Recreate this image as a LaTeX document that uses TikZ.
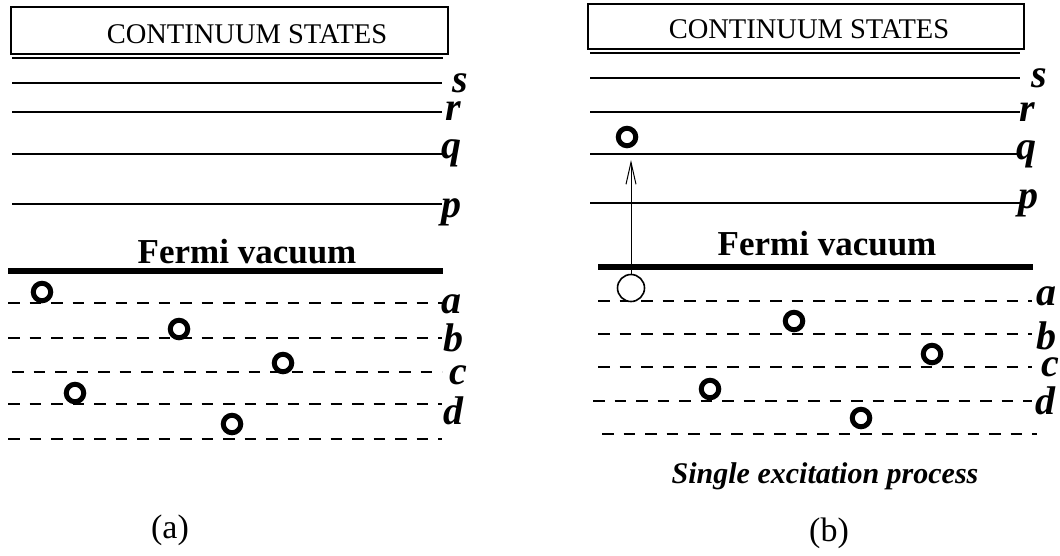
\documentclass[tikz,border=0pt]{standalone}
\usepackage{fontspec}
\setmainfont{Liberation Serif}
\usetikzlibrary{arrows.meta}
\tikzset{
  level/.style={line width=2.8pt},
  fermi/.style={line width=5.5pt},
  hole/.style={line width=2.7pt, dash pattern=on 11.5pt off 10pt},
  boxframe/.style={draw, line width=2.2pt, minimum width=437pt, minimum height=47pt, inner sep=0pt},
  shadowline/.style={line width=2.2pt},
  boxtext/.style={font=\fontsize{28.5}{28.5}\selectfont, anchor=base, inner sep=0pt},
  lbl/.style={font=\fontsize{40}{40}\selectfont\bfseries\itshape, anchor=base west, inner sep=0pt},
  fermitext/.style={font=\fontsize{35}{35}\selectfont\bfseries, anchor=base, inner sep=0pt},
  ring/.style={circle, draw, fill=white, line width=5pt, minimum size=17.5pt, inner sep=0pt},
  bigring/.style={circle, draw, fill=white, line width=1.6pt, minimum size=27pt, inner sep=0pt},
  caption/.style={font=\fontsize{34}{34}\selectfont, anchor=base, inner sep=0pt},
  proc/.style={font=\fontsize{30}{30}\selectfont\bfseries\itshape, anchor=base, inner sep=0pt},
  excite/.style={line width=1pt, -{Straight Barb[length=22pt, width=10pt, line width=1pt]}}
}
\begin{document}
\begin{tikzpicture}[x=1pt, y=-1pt]
\useasboundingbox (0,0) rectangle (1060,555);

% ---------------- panel (a) ----------------
\node[boxframe] (boxa) at (229.5,30.5) {};
\node[boxtext] (conta) at (247,43) {CONTINUUM STATES};
\coordinate (sha1) at (12,58); \coordinate (sha2) at (443,58);
\draw[shadowline] (sha1) -- (sha2);

\coordinate (sa1) at (12,83);  \coordinate (sa2) at (442,83);
\coordinate (ra1) at (12,112); \coordinate (ra2) at (442,112);
\coordinate (qa1) at (12,154); \coordinate (qa2) at (442,154);
\coordinate (pa1) at (12,204); \coordinate (pa2) at (442,204);
\draw[level] (sa1) -- (sa2);
\draw[level] (ra1) -- (ra2);
\draw[level] (qa1) -- (qa2);
\draw[level] (pa1) -- (pa2);
\node[lbl] (las) at (452,92) {s};
\node[lbl] (lar) at (445,120) {r};
\node[lbl] (laq) at (441,158) {q};
\node[lbl] (lap) at (441,217) {p};

\node[fermitext] (fva) at (247,263) {Fermi vacuum};
\coordinate (fa1) at (8,271); \coordinate (fa2) at (443,271);
\draw[fermi] (fa1) -- (fa2);

\coordinate (aa1) at (8,303);  \coordinate (aa2) at (442,303);
\coordinate (ba1) at (8,338);  \coordinate (ba2) at (442,338);
\coordinate (ca1) at (12,372); \coordinate (ca2) at (442,372);
\coordinate (da1) at (8,404);  \coordinate (da2) at (442,404);
\coordinate (ea1) at (8,439);  \coordinate (ea2) at (442,439);
\draw[hole] (aa1) -- (aa2);
\draw[hole] (ba1) -- (ba2);
\draw[hole] (ca1) -- (ca2);
\draw[hole] (da1) -- (da2);
\draw[hole] (ea1) -- (ea2);
\node[lbl] (laa) at (441,313) {a};
\node[lbl] (lab) at (443,351) {b};
\node[lbl] (lac) at (449,384) {c};
\node[lbl] (lad) at (443,424) {d};

\node[ring] (h1a) at (42,292) {};
\node[ring] (h2a) at (179,329) {};
\node[ring] (h3a) at (283,363) {};
\node[ring] (h4a) at (75,393) {};
\node[ring] (h5a) at (232,424) {};

\node[caption] (capa) at (170,538) {(a)};

% ---------------- panel (b) ----------------
\node[boxframe, minimum width=436pt, minimum height=45pt] (boxb) at (806,26.5) {};
\node[boxtext] (contb) at (809,38) {CONTINUUM STATES};
\coordinate (shb1) at (590,53); \coordinate (shb2) at (1020,53);
\draw[shadowline] (shb1) -- (shb2);

\coordinate (sb1) at (590,78);  \coordinate (sb2) at (1020,78);
\coordinate (rb1) at (590,112); \coordinate (rb2) at (1020,112);
\coordinate (qb1) at (590,154); \coordinate (qb2) at (1020,154);
\coordinate (pb1) at (590,203); \coordinate (pb2) at (1020,203);
\draw[level] (sb1) -- (sb2);
\draw[level] (rb1) -- (rb2);
\draw[level] (qb1) -- (qb2);
\draw[level] (pb1) -- (pb2);
\node[lbl] (lbs) at (1031,87) {s};
\node[lbl] (lbr) at (1019,121) {r};
\node[lbl] (lbq) at (1016,159) {q};
\node[lbl] (lbp) at (1018,208) {p};

\node[fermitext] (fvb) at (827,255) {Fermi vacuum};
\coordinate (fb1) at (598,267); \coordinate (fb2) at (1033,267);
\draw[fermi] (fb1) -- (fb2);

\coordinate (ab1) at (598,301); \coordinate (ab2) at (1032,301);
\coordinate (bb1) at (598,334); \coordinate (bb2) at (1032,334);
\coordinate (cb1) at (598,367); \coordinate (cb2) at (1032,367);
\coordinate (db1) at (593,401); \coordinate (db2) at (1032,401);
\coordinate (eb1) at (602,434); \coordinate (eb2) at (1037,434);
\draw[hole] (ab1) -- (ab2);
\draw[hole] (bb1) -- (bb2);
\draw[hole] (cb1) -- (cb2);
\draw[hole] (db1) -- (db2);
\draw[hole] (eb1) -- (eb2);
\node[lbl] (lba) at (1036,305) {a};
\node[lbl] (lbb) at (1036,349) {b};
\node[lbl] (lbc) at (1041,376) {c};
\node[lbl] (lbd) at (1035,414) {d};

\node[bigring] (vac) at (631,288) {};
\node[ring] (part) at (627,137) {};
\node[ring] (h2b) at (794,321) {};
\node[ring] (h3b) at (932,354) {};
\node[ring] (h4b) at (710,389) {};
\node[ring] (h5b) at (861,418) {};
\coordinate (tip) at (631,160);
\draw[excite] (vac.north) -- (tip);

\node[proc] (procb) at (825,483) {Single excitation process};
\node[caption] (capb) at (829,541) {(b)};
\end{tikzpicture}
\end{document}
